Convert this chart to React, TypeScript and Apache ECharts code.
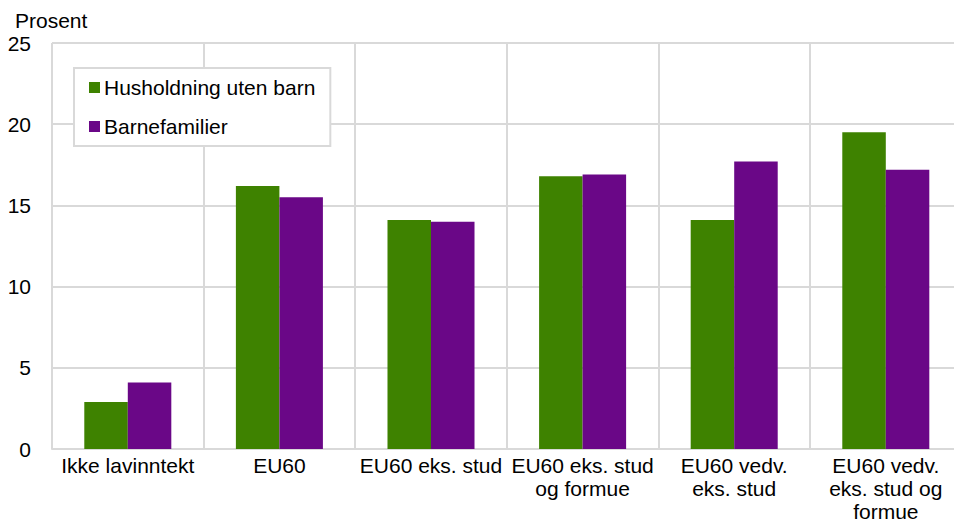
import React, { useEffect, useRef } from "react";
import * as echarts from "echarts";

const categories = [
  "Ikke lavinntekt",
  "EU60",
  "EU60 eks. stud",
  "EU60 eks. stud\nog formue",
  "EU60 vedv.\neks. stud",
  "EU60 vedv.\neks. stud og\nformue",
];
const husholdningUtenBarn = [2.9, 16.2, 14.1, 16.8, 14.1, 19.5];
const barnefamilier = [4.1, 15.5, 14.0, 16.9, 17.7, 17.2];
const seriesNames = ["Husholdning uten barn", "Barnefamilier"];

const FONT = "'Liberation Sans', Arial, sans-serif";
const GRID = "#d9d9d9";
const FS = 21;

export default function App() {
  const ref = useRef<HTMLDivElement>(null);
  useEffect(() => {
    const chart = echarts.init(ref.current!, null, { renderer: "svg" });
    chart.setOption({
      animation: false,
      textStyle: { fontFamily: FONT },
      graphic: [
        {
          type: "text",
          left: 15,
          top: 10,
          style: { text: "Prosent", font: `${FS}px ${FONT}`, fill: "#000" },
        },
      ],
      legend: {
        orient: "vertical",
        left: 74,
        top: 68,
        padding: [9, 15, 9, 15],
        itemGap: 18,
        itemWidth: 11,
        itemHeight: 11,
        icon: "rect",
        borderColor: GRID,
        borderWidth: 2,
        backgroundColor: "#fff",
        textStyle: { fontSize: FS, color: "#000", fontFamily: FONT, padding: [0, 0, 0, -1] },
        data: seriesNames,
      },
      grid: {
        left: 52,
        top: 43,
        bottom: 75,
        width: 909.6,
        containLabel: false,
        outerBoundsMode: "none",
      },
      xAxis: {
        type: "category",
        data: categories,
        axisLine: { show: true, lineStyle: { color: GRID, width: 2 } },
        axisTick: { show: false },
        splitLine: { show: true, lineStyle: { color: GRID, width: 2 } },
        axisLabel: {
          fontSize: FS,
          color: "#000",
          fontFamily: FONT,
          lineHeight: 23,
          margin: 5,
          interval: 0,
        },
      },
      yAxis: {
        type: "value",
        min: 0,
        max: 25,
        interval: 5,
        axisLine: { show: false },
        axisTick: { show: false },
        splitLine: { show: true, lineStyle: { color: GRID, width: 2 } },
        axisLabel: { fontSize: FS, color: "#000", fontFamily: FONT, margin: 21 },
      },
      series: [
        {
          name: seriesNames[0],
          type: "bar",
          data: husholdningUtenBarn,
          itemStyle: { color: "#3e8200" },
          barGap: "0%",
          barCategoryGap: "42.6%",
        },
        {
          name: seriesNames[1],
          type: "bar",
          data: barnefamilier,
          itemStyle: { color: "#6a0787" },
          barGap: "0%",
          barCategoryGap: "42.6%",
        },
      ],
    });
    return () => chart.dispose();
  }, []);
  return <div ref={ref} style={{ width: 954, height: 524, position: "absolute", left: 0, top: 0 }} />;
}
